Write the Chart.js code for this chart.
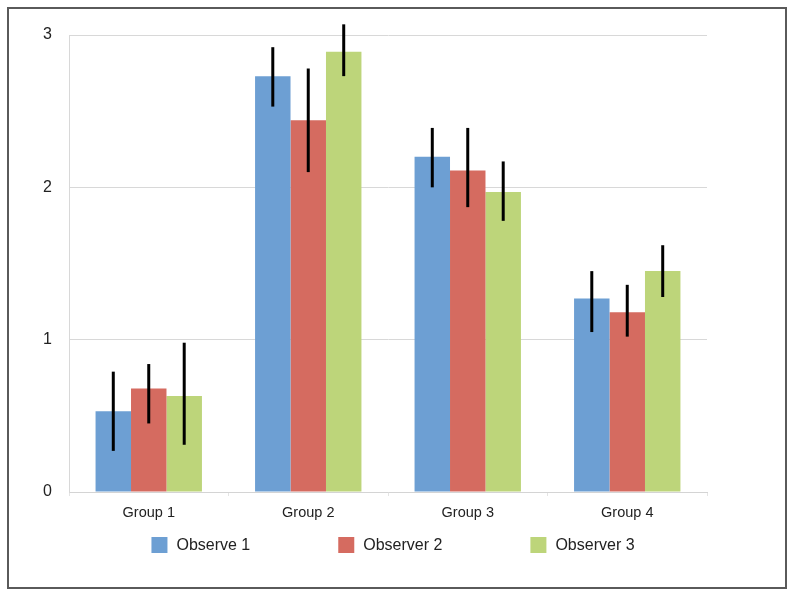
<!DOCTYPE html>
<html>
<head>
<meta charset="utf-8">
<script src="https://cdn.jsdelivr.net/npm/chart.js@4.4.1/dist/chart.umd.min.js"></script>
<style>
  html, body { margin: 0; padding: 0; background: #fff; }
  #wrap { position: relative; width: 794px; height: 596px; }
  #frame {
    position: absolute; left: 7px; top: 7px; width: 780px; height: 582px;
    box-sizing: border-box; border: 2px solid #5a5a5a; pointer-events: none;
  }
</style>
</head>
<body>
<div id="wrap">
  <canvas id="chart" width="794" height="596"></canvas>
  <div id="frame"></div>
</div>
<script>
const categories = ['Group 1', 'Group 2', 'Group 3', 'Group 4'];
const seriesNames = ['Observe 1', 'Observer 2', 'Observer 3'];
const seriesColors = ['#6d9fd3', '#d56b60', '#bdd57a'];

const observe1 = [0.53, 2.73, 2.20, 1.27];
const observe1Low = [0.27, 2.53, 2.00, 1.05];
const observe1High = [0.79, 2.92, 2.39, 1.45];

const observer2 = [0.68, 2.44, 2.11, 1.18];
const observer2Low = [0.45, 2.10, 1.87, 1.02];
const observer2High = [0.84, 2.78, 2.39, 1.36];

const observer3 = [0.63, 2.89, 1.97, 1.45];
const observer3Low = [0.31, 2.73, 1.78, 1.28];
const observer3High = [0.98, 3.07, 2.17, 1.62];

const yTicks = [0, 1, 2, 3];

const values = [observe1, observer2, observer3];
const lows = [observe1Low, observer2Low, observer3Low];
const highs = [observe1High, observer2High, observer3High];

const FONT = '"Liberation Sans", Arial, Helvetica, sans-serif';

// error bars: plain black vertical lines, no caps
const errorBars = {
  id: 'errorBars',
  afterDatasetsDraw(chart) {
    const ctx = chart.ctx;
    const y = chart.scales.y;
    ctx.save();
    ctx.strokeStyle = '#000';
    ctx.lineWidth = 3;
    chart.data.datasets.forEach((ds, i) => {
      const meta = chart.getDatasetMeta(i);
      meta.data.forEach((bar, j) => {
        ctx.beginPath();
        ctx.moveTo(bar.x, y.getPixelForValue(ds.low[j]));
        ctx.lineTo(bar.x, y.getPixelForValue(ds.high[j]));
        ctx.stroke();
      });
    });
    ctx.restore();
  }
};

// legend with wide spacing between items
const wideLegend = {
  id: 'wideLegend',
  afterDraw(chart) {
    const ctx = chart.ctx;
    const box = 16, gap = 9, spacing = 88;
    ctx.save();
    ctx.font = '16px ' + FONT;
    ctx.textBaseline = 'middle';
    const items = chart.data.datasets.map(ds => ({
      text: ds.label, color: ds.backgroundColor,
      w: box + gap + ctx.measureText(ds.label).width
    }));
    const total = items.reduce((s, it) => s + it.w, 0) + spacing * (items.length - 1);
    const area = chart.chartArea;
    let x = (area.left + area.right) / 2 + 5 - total / 2;
    const cy = area.bottom + 53;
    items.forEach(it => {
      ctx.fillStyle = it.color;
      ctx.fillRect(x, cy - box / 2, box, box);
      ctx.fillStyle = '#222';
      ctx.fillText(it.text, x + box + gap, cy + 1);
      x += it.w + spacing;
    });
    ctx.restore();
  }
};

new Chart(document.getElementById('chart'), {
  type: 'bar',
  data: {
    labels: categories,
    datasets: seriesNames.map((name, i) => ({
      label: name,
      data: values[i],
      low: lows[i],
      high: highs[i],
      backgroundColor: seriesColors[i],
      borderWidth: 0,
      categoryPercentage: 0.667,
      barPercentage: 1.0
    }))
  },
  options: {
    responsive: false,
    animation: false,
    devicePixelRatio: 1,
    layout: { padding: { top: 35, right: 87, left: 0, bottom: 0 } },
    plugins: {
      legend: { display: false },
      tooltip: { enabled: false }
    },
    scales: {
      x: {
        grid: { display: true, drawOnChartArea: false, offset: true, tickLength: 4, color: '#e4e4e4' },
        border: { display: true, color: '#d4d4d4' },
        ticks: { color: '#222', padding: 8, font: { family: FONT, size: 14.5 } },
        afterFit(scale) { scale.height = 104; }
      },
      y: {
        min: 0,
        max: 3,
        afterBuildTicks(scale) { scale.ticks = yTicks.map(v => ({ value: v })); },
        grid: { color: '#d8d8d8', drawTicks: false },
        border: { display: true, color: '#d8d8d8' },
        ticks: { color: '#222', padding: 17, font: { family: FONT, size: 16 } },
        afterFit(scale) { scale.width = 69; }
      }
    }
  },
  plugins: [errorBars, wideLegend]
});
</script>
</body>
</html>
